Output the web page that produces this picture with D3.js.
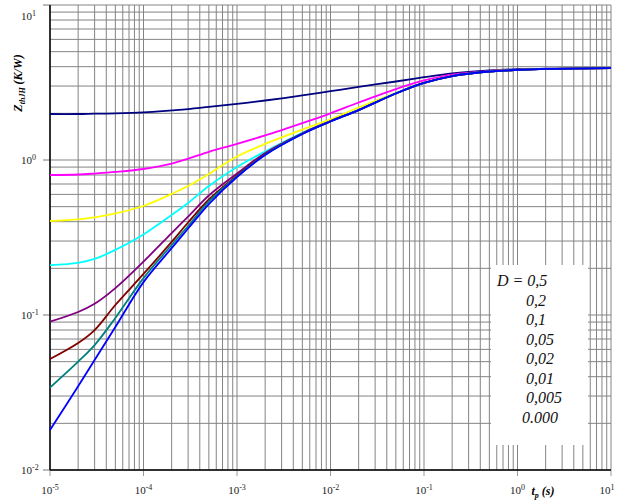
<!DOCTYPE html>
<html><head><meta charset="utf-8">
<script src="https://cdn.jsdelivr.net/npm/d3@7"></script>
<style>body{margin:0;background:#fff}svg{display:block}</style>
</head><body>
<svg id="chart" width="621" height="503"></svg>
<script>
// ---- data ----
const tValues = [1e-5,2e-5,3e-5,5e-5,1e-4,2e-4,3e-4,5e-4,1e-3,2e-3,5e-3,1e-2,2e-2,5e-2,0.1,0.2,0.5,1,2,10];
const dLabels = ["D = 0,5","0,2","0,1","0,05","0,02","0,01","0,005","0.000"];
const seriesColors = ["#000080","#ff00ff","#ffff00","#00ffff","#800080","#800000","#008080","#0000ff"];
const zD05  = [1.98,1.98,1.99,2.00,2.03,2.09,2.13,2.20,2.30,2.42,2.61,2.78,2.96,3.21,3.42,3.62,3.78,3.85,3.88,3.92];
const zD02  = [0.800,0.806,0.818,0.837,0.875,0.949,1.02,1.13,1.27,1.44,1.73,2.00,2.35,2.87,3.26,3.56,3.75,3.81,3.87,3.92];
const zD01  = [0.404,0.414,0.426,0.452,0.505,0.604,0.679,0.812,1.053,1.27,1.57,1.83,2.18,2.71,3.16,3.49,3.73,3.81,3.87,3.92];
const zD005 = [0.210,0.217,0.230,0.263,0.331,0.442,0.528,0.679,0.901,1.135,1.50,1.785,2.11,2.70,3.14,3.48,3.724,3.81,3.87,3.92];
const zD002 = [0.0905,0.1045,0.118,0.149,0.221,0.338,0.431,0.590,0.818,1.110,1.489,1.78,2.10,2.685,3.14,3.48,3.724,3.81,3.87,3.92];
const zD001 = [0.052,0.066,0.080,0.116,0.184,0.296,0.395,0.556,0.794,1.090,1.478,1.777,2.10,2.685,3.14,3.48,3.724,3.81,3.87,3.92];
const zD0005= [0.034,0.050,0.064,0.0957,0.173,0.283,0.375,0.540,0.785,1.083,1.475,1.772,2.10,2.685,3.14,3.48,3.724,3.81,3.87,3.92];
const zD0   = [0.0181,0.0347,0.0513,0.0837,0.163,0.270,0.3615,0.520,0.777,1.077,1.471,1.772,2.10,2.685,3.14,3.48,3.724,3.81,3.87,3.92];
const allSeries = [zD05,zD02,zD01,zD005,zD002,zD001,zD0005,zD0];
const xDecades = [-5,-4,-3,-2,-1,0,1];
const yDecades = [-2,-1,0,1];

// ---- layout ----
const L = 50, R = 611, T = 5, B = 470;
const svg = d3.select("#chart");
const x = d3.scaleLog().domain([1e-5, 10]).range([L, R]);
const y = d3.scaleLog().domain([0.01, 10]).range([B, T]);
const serif = "'Liberation Serif','Times New Roman',serif";

// grid
const gx = [], gy = [];
xDecades.slice(0,-1).forEach(e => { for (let k=1;k<=9;k++) gx.push(k*Math.pow(10,e)); });
gx.push(10);
yDecades.slice(0,-1).forEach(e => { for (let k=1;k<=9;k++) gy.push(k*Math.pow(10,e)); });
gy.push(10);
const grid = svg.append("g").attr("stroke","#848484").attr("stroke-width",1);
grid.selectAll("line.v").data(gx).join("line").attr("class","v")
  .attr("x1",d=>x(d)).attr("x2",d=>x(d)).attr("y1",T).attr("y2",B);
grid.selectAll("line.h").data(gy).join("line").attr("class","h")
  .attr("x1",L).attr("x2",R).attr("y1",d=>y(d)).attr("y2",d=>y(d));

// decade ticks
svg.append("g").attr("stroke","#999").selectAll("line").data(xDecades).join("line")
  .attr("x1",d=>x(Math.pow(10,d))).attr("x2",d=>x(Math.pow(10,d))).attr("y1",B).attr("y2",B+6);
svg.append("g").attr("stroke","#777").selectAll("line").data(yDecades).join("line")
  .attr("x1",L-7).attr("x2",L).attr("y1",d=>y(Math.pow(10,d))).attr("y2",d=>y(Math.pow(10,d)));

// legend background box (covers grid)
svg.append("rect").attr("x",491).attr("y",265).attr("width",97).attr("height",180).attr("fill","#fff");

// axes lines
svg.append("line").attr("x1",L).attr("x2",L).attr("y1",T).attr("y2",B).attr("stroke","#000").attr("stroke-width",1.5);
svg.append("line").attr("x1",L).attr("x2",R).attr("y1",B).attr("y2",B).attr("stroke","#000").attr("stroke-width",1.5);

// curves
const line = d3.line().x((d,i)=>x(tValues[i])).y(d=>y(d)).curve(d3.curveCatmullRom.alpha(0.5));
svg.append("g").attr("fill","none").selectAll("path").data(allSeries).join("path")
  .attr("d", d=>line(d)).attr("stroke",(d,i)=>seriesColors[i]).attr("stroke-width",1.8);

// tick labels
const xl = svg.append("g").attr("font-family",serif).attr("fill","#222").attr("font-size",11);
xDecades.forEach(e => {
  const t = xl.append("text").attr("x", Math.min(x(Math.pow(10,e)), 607)).attr("y",494).attr("text-anchor","middle");
  t.append("tspan").text("10");
  t.append("tspan").attr("dy",-4).attr("font-size",8).text(e);
});
const yl = svg.append("g").attr("font-family",serif).attr("fill","#222").attr("font-size",11);
yDecades.forEach(e => {
  const t = yl.append("text").attr("x",21).attr("y", Math.max(y(Math.pow(10,e)), 16) + 4);
  t.append("tspan").text("10");
  t.append("tspan").attr("dy",-4).attr("font-size",8).text(e);
});

// axis titles
const yt = svg.append("text").attr("transform","translate(22,83) rotate(-90)")
  .attr("text-anchor","middle").attr("font-family",serif).attr("font-weight","bold")
  .attr("font-style","italic").attr("font-size",12);
yt.append("tspan").text("Z");
yt.append("tspan").attr("dy",3).attr("font-size",8).text("thJH");
yt.append("tspan").attr("dy",-3).text(" (K/W)");
const xt = svg.append("text").attr("x",543).attr("y",495).attr("text-anchor","middle")
  .attr("font-family",serif).attr("font-weight","bold").attr("font-style","italic").attr("font-size",12);
xt.append("tspan").text("t");
xt.append("tspan").attr("dy",3).attr("font-size",8).text("p");
xt.append("tspan").attr("dy",-3).text(" (s)");

// legend text
svg.append("g").attr("font-family",serif).attr("font-style","italic").attr("font-size",16).attr("fill","#111")
  .selectAll("text").data(dLabels).join("text")
  .attr("x",(d,i)=> i===0 ? 497 : (i===dLabels.length-1 ? 522 : 526))
  .attr("y",(d,i)=> 286 + i*19.5)
  .text(d=>d);
</script>
</body></html>
